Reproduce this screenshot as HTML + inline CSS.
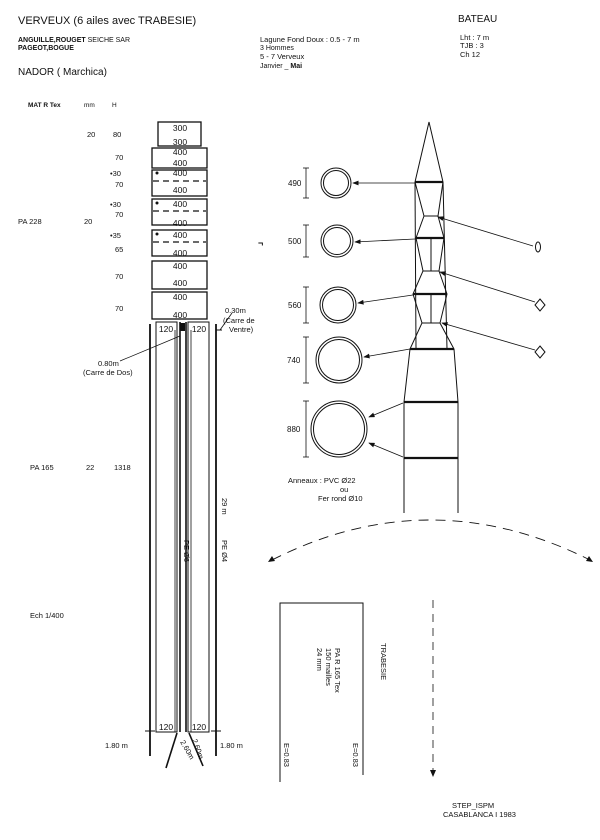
<!DOCTYPE html>
<html><head><meta charset="utf-8"><style>
html,body{margin:0;padding:0;background:#fff}
svg{display:block}
text{font-family:"Liberation Sans",sans-serif;fill:#111}
</style></head><body>
<svg width="600" height="840" viewBox="0 0 600 840" xmlns="http://www.w3.org/2000/svg">
<defs><marker id="ah" markerWidth="8" markerHeight="6" refX="7" refY="3" orient="auto"><path d="M0,0 L8,3 L0,6 z" fill="#111"/></marker></defs>
<g font-size="9">
<text x="18" y="24" font-size="11">VERVEUX (6 ailes avec TRABESIE)</text>
<text x="18" y="42" font-size="7" font-weight="bold">ANGUILLE,ROUGET <tspan font-weight="normal">SEICHE SAR</tspan></text>
<text x="18" y="50" font-size="7" font-weight="bold">PAGEOT,BOGUE</text>
<text x="18" y="75" font-size="10">NADOR ( Marchica)</text>
<text x="260" y="42" font-size="7.5">Lagune  Fond Doux : 0.5 - 7 m</text>
<text x="260" y="50" font-size="7">3 Hommes</text>
<text x="260" y="59" font-size="7.5">5 - 7 Verveux</text>
<text x="260" y="68" font-size="7">Janvier _ <tspan font-weight="bold">Mai</tspan></text>
<text x="458" y="22" font-size="10">BATEAU</text>
<text x="460" y="40" font-size="7.5">Lht : 7 m</text>
<text x="460" y="48" font-size="7.5">TJB : 3</text>
<text x="460" y="57" font-size="7.5">Ch  12</text>
<text x="28" y="107" font-size="6.5" font-weight="bold">MAT R Tex</text>
<text x="84" y="107" font-size="6.5">mm</text>
<text x="112" y="107" font-size="6.5">H</text>
<g font-size="7.5">
<text x="87" y="137">20</text><text x="113" y="137">80</text>
<text x="115" y="160">70</text>
<text x="110" y="176">•30</text><text x="115" y="187">70</text>
<text x="110" y="207">•30</text><text x="115" y="217">70</text>
<text x="110" y="238">•35</text><text x="115" y="252">65</text>
<text x="115" y="279">70</text>
<text x="115" y="311">70</text>
<text x="30" y="470">PA 165</text><text x="86" y="470">22</text><text x="114" y="470">1318</text>
<text x="30" y="618">Ech  1/400</text>
<text x="18" y="224">PA 228</text><text x="84" y="224">20</text>
</g>
</g>
<!-- upper body boxes -->
<g fill="none" stroke="#111" stroke-width="1.3">
<rect x="158" y="122" width="43" height="24"/>
<rect x="152" y="148" width="55" height="20"/>
<rect x="152" y="170" width="55" height="26"/>
<rect x="152" y="199" width="55" height="26"/>
<rect x="152" y="230" width="55" height="26"/>
<rect x="152" y="261" width="55" height="28"/>
<rect x="152" y="292" width="55" height="27"/>
</g>
<g stroke="#111" stroke-width="1.3" stroke-dasharray="6,4">
<line x1="153" y1="181" x2="206" y2="181"/><line x1="153" y1="211" x2="206" y2="211"/><line x1="153" y1="242" x2="206" y2="242"/>
</g>
<g fill="#111"><circle cx="157" cy="173" r="1.5"/><circle cx="157" cy="203" r="1.5"/><circle cx="157" cy="234" r="1.5"/></g>
<g font-size="8.5" text-anchor="middle">
<text x="180" y="131">300</text><text x="180" y="145">300</text>
<text x="180" y="155">400</text><text x="180" y="166">400</text>
<text x="180" y="176">400</text><text x="180" y="193">400</text>
<text x="180" y="207">400</text><text x="180" y="226">400</text>
<text x="180" y="238">400</text><text x="180" y="256">400</text>
<text x="180" y="269">400</text><text x="180" y="286">400</text>
<text x="180" y="300">400</text><text x="180" y="318">400</text>
</g>
<!-- long column -->
<g fill="none" stroke="#111">
<line x1="150" y1="324" x2="150" y2="756" stroke-width="1.8"/>
<line x1="216" y1="324" x2="216" y2="756" stroke-width="1.8"/>
<rect x="156" y="322" width="21" height="410" stroke-width="1"/>
<line x1="175" y1="330" x2="175" y2="732" stroke-width="0.8"/>
<rect x="188" y="322" width="21" height="410" stroke-width="1"/>
<line x1="191" y1="330" x2="191" y2="732" stroke-width="0.8"/>
<line x1="180" y1="322" x2="180" y2="732" stroke-width="1.6"/>
<line x1="186" y1="322" x2="186" y2="732" stroke-width="1.6"/>
<line x1="145" y1="731" x2="155" y2="731"/><line x1="211" y1="731" x2="221" y2="731"/>
<line x1="177" y1="733" x2="166" y2="768" stroke-width="1.6"/>
<line x1="189" y1="733" x2="203" y2="766" stroke-width="1.6"/>
<line x1="216" y1="330" x2="222" y2="330"/>
<line x1="220" y1="330" x2="232" y2="313" stroke-width="0.8"/>
<line x1="120" y1="361" x2="180" y2="336" stroke-width="0.7"/>
</g>
<rect x="180" y="323" width="5" height="8" fill="#111"/>
<g font-size="8.5" text-anchor="middle"><text x="166" y="332">120</text><text x="199" y="332">120</text><text x="166" y="730">120</text><text x="199" y="730">120</text></g>
<g font-size="7.5">
<text x="225" y="313">0.30m</text><text x="223" y="323">(Carre de</text><text x="229" y="332">Ventre)</text>
<text x="98" y="366">0.80m</text><text x="83" y="375">(Carre de Dos)</text>
<text x="105" y="748">1.80 m</text><text x="220" y="748">1.80 m</text>
<text transform="translate(222,498) rotate(90)">29 m</text>
<text transform="translate(222,540) rotate(90)">PE  Ø4</text>
<text transform="translate(184,540) rotate(90)">PE  Ø6</text>
<text transform="translate(180,742) rotate(60)">2.60m</text>
<text transform="translate(192,740) rotate(70)">2.60m</text>
</g>
<!-- right net -->
<g fill="none" stroke="#111" stroke-width="1">
<path d="M415,182 L429,122 L443,182"/>
<path d="M415,182 L424,216 L416,238 L423,271 L413,294 L422,323 L410,349 L404,402 L404,513"/>
<path d="M443,182 L438,216 L444,238 L439,271 L447,294 L440,323 L454,349 L458,402 L458,513"/>
<line x1="415" y1="182" x2="416" y2="349"/>
<line x1="443" y1="182" x2="447" y2="349" />
<line x1="424" y1="216" x2="438" y2="216"/>
<line x1="423" y1="271" x2="439" y2="271"/>
<line x1="422" y1="323" x2="440" y2="323"/>
<line x1="431" y1="238" x2="431" y2="271"/><line x1="431" y1="294" x2="431" y2="323"/>
</g>
<g stroke="#111" stroke-width="2.2">
<line x1="415" y1="182" x2="443" y2="182"/><line x1="416" y1="238" x2="444" y2="238"/>
<line x1="413" y1="294" x2="447" y2="294"/><line x1="410" y1="349" x2="454" y2="349"/>
<line x1="404" y1="402" x2="458" y2="402"/><line x1="404" y1="458" x2="458" y2="458"/>
</g>
<!-- circles -->
<g fill="none" stroke="#111" stroke-width="1">
<circle cx="336" cy="183" r="15"/><circle cx="336" cy="183" r="12.5"/>
<circle cx="337" cy="241" r="16"/><circle cx="337" cy="241" r="13.5"/>
<circle cx="338" cy="305" r="18"/><circle cx="338" cy="305" r="15.5"/>
<circle cx="339" cy="360" r="23"/><circle cx="339" cy="360" r="20.5"/>
<circle cx="339" cy="429" r="28"/><circle cx="339" cy="429" r="25.5"/>
</g>
<g stroke="#111" stroke-width="0.8" fill="none" marker-end="url(#ah)">
<line x1="415" y1="183" x2="353" y2="183"/>
<line x1="415" y1="239" x2="355" y2="242"/>
<line x1="413" y1="295" x2="358" y2="303"/>
<line x1="410" y1="349" x2="364" y2="357"/>
<line x1="403" y1="403" x2="369" y2="417"/>
<line x1="403" y1="457" x2="369" y2="443"/>
<line x1="533" y1="246" x2="438" y2="217"/>
<line x1="535" y1="302" x2="440" y2="272"/>
<line x1="535" y1="350" x2="442" y2="323"/>
</g>
<ellipse cx="538" cy="247" rx="2.5" ry="5" fill="none" stroke="#111"/>
<path d="M540,299 L545,305 L540,311 L535,305 Z M540,346 L545,352 L540,358 L535,352 Z" fill="none" stroke="#111"/>
<g stroke="#111" stroke-width="0.8">
<line x1="306" y1="168" x2="306" y2="198"/><line x1="303" y1="168" x2="309" y2="168"/><line x1="303" y1="198" x2="309" y2="198"/>
<line x1="306" y1="225" x2="306" y2="257"/><line x1="303" y1="225" x2="309" y2="225"/><line x1="303" y1="257" x2="309" y2="257"/>
<line x1="306" y1="287" x2="306" y2="323"/><line x1="303" y1="287" x2="309" y2="287"/><line x1="303" y1="323" x2="309" y2="323"/>
<line x1="306" y1="337" x2="306" y2="383"/><line x1="303" y1="337" x2="309" y2="337"/><line x1="303" y1="383" x2="309" y2="383"/>
<line x1="306" y1="401" x2="306" y2="457"/><line x1="303" y1="401" x2="309" y2="401"/><line x1="303" y1="457" x2="309" y2="457"/>
</g>
<g font-size="8"><text x="288" y="186">490</text><text x="288" y="244">500</text><text x="288" y="308">560</text><text x="287" y="363">740</text><text x="287" y="432">880</text></g>
<g font-size="7.5"><text x="288" y="483">Anneaux : PVC Ø22</text><text x="340" y="492">ou</text><text x="318" y="501">Fer rond Ø10</text></g>
<text x="258" y="246" font-size="9" font-weight="bold">¬</text>
<!-- dashed arc -->
<path d="M272,560 Q430,480 590,560" fill="none" stroke="#111" stroke-width="0.9" stroke-dasharray="10,7"/>
<path d="M268,562 l7,-1 l-3,-5 z M593,562 l-7,-1 l3,-5 z" fill="#111"/>
<!-- trabesie -->
<g stroke="#111" fill="none">
<path d="M280,782 L280,603 L363,603 L363,775" stroke-width="1"/>
<line x1="433" y1="600" x2="433" y2="772" stroke-dasharray="8,6" stroke-width="0.8"/>
</g>
<path d="M430,770 l3,7 l3,-7 z" fill="#111"/>
<g font-size="7.5">
<text transform="translate(381,643) rotate(90)">TRABESIE</text>
<text transform="translate(335,648) rotate(90)">PA R 165 Tex</text>
<text transform="translate(326,648) rotate(90)">150 mailles</text>
<text transform="translate(317,648) rotate(90)">24 mm</text>
<text transform="translate(284,743) rotate(90)">E=0.83</text>
<text transform="translate(353,743) rotate(90)">E=0.83</text>
<text x="452" y="808" font-size="7.5">STEP_ISPM</text>
<text x="443" y="817" font-size="7.5">CASABLANCA I  1983</text>
</g>
</svg>
</body></html>
